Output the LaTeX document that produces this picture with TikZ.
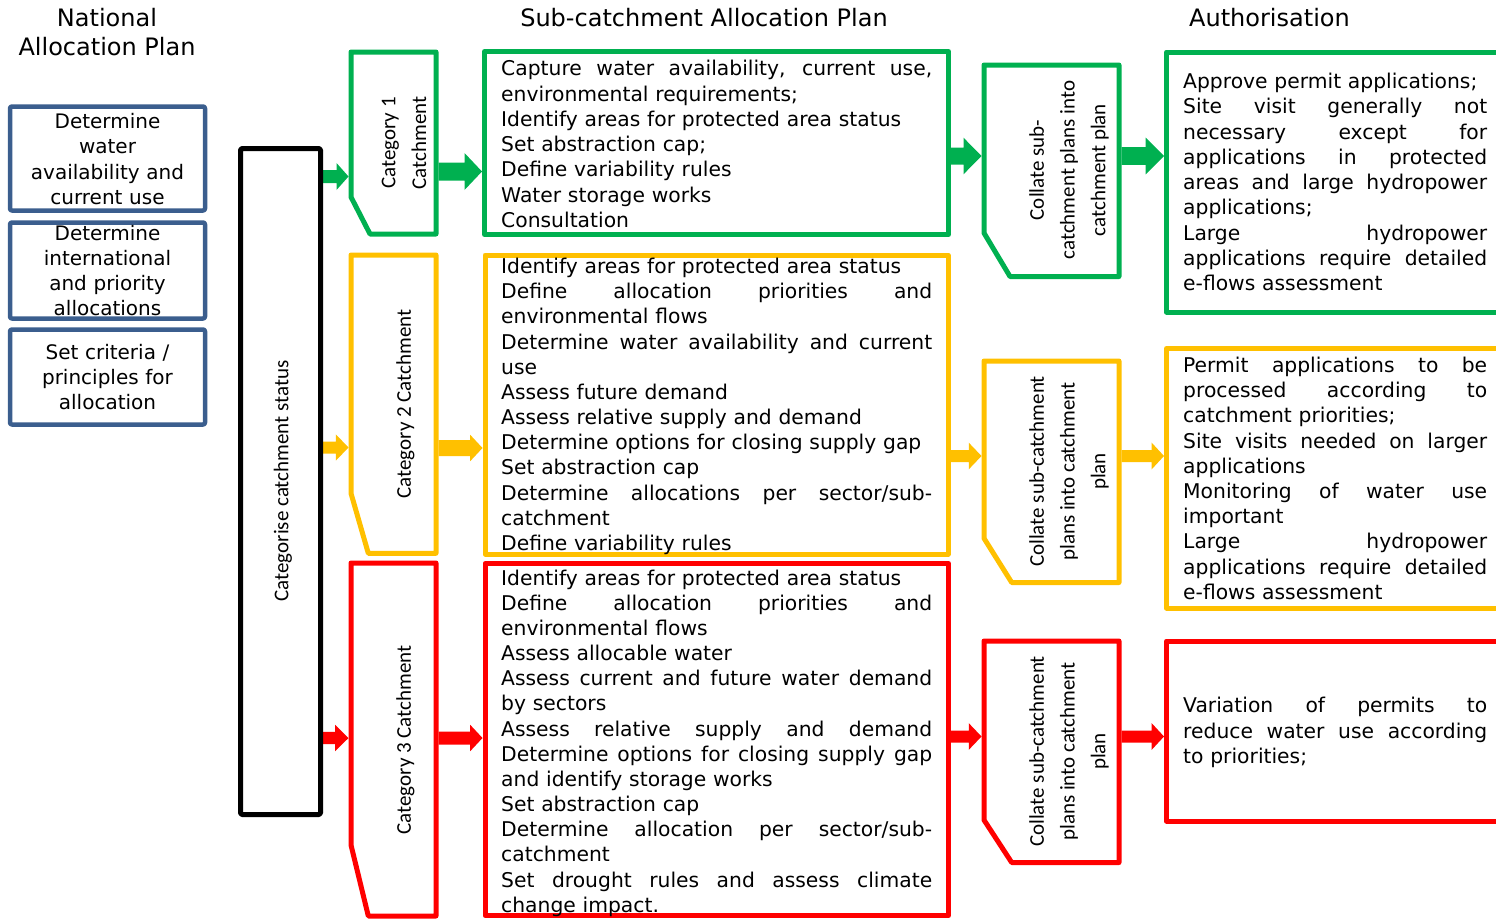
\documentclass[tikz,border=0pt]{standalone}
\usepackage{fontspec}
\setmainfont{DejaVu Sans}
\newfontfamily\labelfont{Carlito}
\usetikzlibrary{calc}

\definecolor{cgreen}{HTML}{00B050}
\definecolor{cyellow}{HTML}{FFC000}
\definecolor{cred}{HTML}{FF0000}
\definecolor{cblue}{HTML}{3B5E8E}

% justified lines: plan column (431pt) and authorisation column (304pt)
\newcommand\jl[1]{\leavevmode\hbox to 431pt{\spaceskip=0.318em plus 1fil\relax#1}}
\newcommand\ja[1]{\leavevmode\hbox to 304pt{\spaceskip=0.318em plus 1fil\relax#1}}
% invisible frame node spanning (x1,y1)-(x2,y2)
\newcommand\boxat[5]{\node[frame, minimum width={(#4-#2)*1pt}, minimum height={(#5-#3)*1pt}] (#1) at ({(#2+#4)/2},{(#3+#5)/2}) {};}
% outline with the lower-left corner snipped off
\newcommand\snipframe[4]{\draw[#2] (#1.north west) -- (#1.north east) -- (#1.south east) -- ([xshift=#3pt]#1.south west) -- ([yshift=#4pt]#1.south west) -- cycle;}
% block arrow: colour, from, to, row y, shaft half, head half, head length
\newcommand\barrow[7]{%
  \fill[#1] let \p1=(#2.east |- 0,#4), \p2=(#3.west |- 0,#4) in
    ({\x1+2.5pt},{\y1+#5pt}) -- ({\x2-2.5pt-#7pt},{\y1+#5pt}) -- ({\x2-2.5pt-#7pt},{\y1+#6pt})
    -- ({\x2-2.5pt},\y1) -- ({\x2-2.5pt-#7pt},{\y1-#6pt}) -- ({\x2-2.5pt-#7pt},{\y1-#5pt})
    -- ({\x1+2.5pt},{\y1-#5pt}) -- cycle;}

\begin{document}
\begin{tikzpicture}[x=1pt,y=-1pt,line join=round,
  frame/.style={inner sep=0pt,outer sep=0pt,rectangle},
  head/.style={inner sep=0pt,font=\fontsize{24}{28.3}\selectfont},
  navy/.style={draw=cblue,line width=4.5pt,rounded corners=2pt},
  gline/.style={draw=cgreen,line width=5pt},
  yline/.style={draw=cyellow,line width=5pt},
  rline/.style={draw=cred,line width=5pt},
  kline/.style={draw=black,line width=5pt,rounded corners=1.5pt},
  navytext/.style={inner sep=0pt,anchor=north,text width=190pt,align=center,font=\fontsize{20}{25.2}\selectfont},
  body/.style={inner sep=0pt,anchor=north west,align=left,font=\fontsize{20.3}{#1}\selectfont},
  vlabel/.style={inner sep=0pt,rotate=90,align=center,font=\labelfont\fontsize{21}{30.8}\selectfont}]
\useasboundingbox (0,0) rectangle (1496,918);
\clip (0,0) rectangle (1496,918);

% column headings
\node[head,anchor=north,align=center] (hnat) at (107,6.89) {\strut National\\Allocation Plan};
\node[head,anchor=base] (hsub) at (704,26.7) {Sub-catchment Allocation Plan};
\node[head,anchor=base] (hauth) at (1269.5,26.7) {Authorisation};

% frames
\boxat{nat1}{10}{106.5}{205}{210.5}
\boxat{nat2}{10}{222.5}{205}{318.5}
\boxat{nat3}{10}{329.5}{205}{424.5}
\boxat{cat}{240.5}{148.5}{320.5}{814.5}
\boxat{cat1}{351}{52}{436}{234}
\boxat{cat2}{351}{255}{436}{553.3}
\boxat{cat3}{351}{563}{436}{916}
\boxat{gplan}{484.5}{51.5}{948.5}{234.5}
\boxat{yplan}{485}{255}{948}{554}
\boxat{rplan}{485}{563.5}{948.5}{915.5}
\boxat{gcol}{984}{65}{1119}{276.5}
\boxat{ycol}{984}{361}{1119}{582.5}
\boxat{rcol}{984}{641}{1119}{862.5}
\boxat{gauth}{1166.5}{52}{1510}{312}
\boxat{yauth}{1166.5}{348.5}{1510}{608}
\boxat{rauth}{1166.5}{641}{1510}{821}

% connectors
\barrow{cgreen}{cat}{cat1}{176.5}{6.5}{13.5}{12}
\barrow{cgreen}{cat1}{gplan}{171.5}{9}{18.5}{17.5}
\barrow{cgreen}{gplan}{gcol}{156}{8.5}{18.3}{18}
\barrow{cgreen}{gcol}{gauth}{156}{8.8}{18.3}{18.3}
\barrow{cyellow}{cat}{cat2}{447.5}{6}{13.2}{12.7}
\barrow{cyellow}{cat2}{yplan}{448}{8}{13.2}{12.3}
\barrow{cyellow}{yplan}{ycol}{456}{6}{13.3}{12.7}
\barrow{cyellow}{ycol}{yauth}{456}{6}{13.3}{12.3}
\barrow{cred}{cat}{cat3}{738}{6.2}{13.2}{13.3}
\barrow{cred}{cat3}{rplan}{738}{6.5}{13.2}{12.3}
\barrow{cred}{rplan}{rcol}{736.5}{6}{13.3}{12.7}
\barrow{cred}{rcol}{rauth}{736.5}{6}{13.3}{12.3}

% outlines
\draw[navy] (nat1.north west) rectangle (nat1.south east);
\draw[navy] (nat2.north west) rectangle (nat2.south east);
\draw[navy] (nat3.north west) rectangle (nat3.south east);
\draw[kline] (cat.north west) rectangle (cat.south east);
\snipframe{cat1}{gline}{19}{37}
\snipframe{cat2}{yline}{17.3}{60}
\snipframe{cat3}{rline}{17.3}{71}
\draw[gline] (gplan.north west) rectangle (gplan.south east);
\draw[yline] (yplan.north west) rectangle (yplan.south east);
\draw[rline] (rplan.north west) rectangle (rplan.south east);
\snipframe{gcol}{gline}{26}{43.5}
\snipframe{ycol}{yline}{27.7}{44.2}
\snipframe{rcol}{rline}{27.7}{42.5}
\draw[gline] (gauth.north west) rectangle (gauth.south east);
\draw[yline] (yauth.north west) rectangle (yauth.south east);
\draw[rline] (rauth.north west) rectangle (rauth.south east);

% national allocation plan
\node[navytext] (nat1t) at (107.5,110.86) {\strut Determine\\water\\availability and\\current use};
\node[navytext] (nat2t) at (107.5,222.36) {\strut Determine\\international\\and priority\\allocations};
\node[navytext] (nat3t) at (107.5,341.66) {\strut Set criteria /\\principles for\\allocation};

% rotated labels
\node[vlabel] (catt) at (283,481) {Categorise catchment status};
\node[vlabel] (cat1t) at (404,143) {Category 1\\Catchment};
\node[vlabel] (cat2t) at (405.5,404) {Category 2 Catchment};
\node[vlabel] (cat3t) at (405.5,740) {Category 3 Catchment};
\node[vlabel] (gcolt) at (1069,170) {Collate sub-\\catchment plans into\\catchment plan};
\node[vlabel] (ycolt) at (1069,471.5) {Collate sub-catchment\\plans into catchment\\plan};
\node[vlabel] (rcolt) at (1069,751.5) {Collate sub-catchment\\plans into catchment\\plan};

% sub-catchment plans
\node[body=25.3,text width=431pt] (gplant) at (501,57.86) {\strut
\jl{Capture water availability, current use,}\\
environmental requirements;\\
Identify areas for protected area status\\
Set abstraction cap;\\
Define variability rules\\
Water storage works\\
Consultation};

\node[body=25.18,text width=431pt] (yplant) at (501,255.67) {\strut
Identify areas for protected area status\\
\jl{Define allocation priorities and}\\
environmental flows\\
\jl{Determine water availability and current}\\
use\\
Assess future demand\\
Assess relative supply and demand\\
Determine options for closing supply gap\\
Set abstraction cap\\
\jl{Determine allocations per sector/sub-}\\
catchment\\
Define variability rules};

\node[body=25.15,text width=431pt] (rplant) at (501,567.4) {\strut
Identify areas for protected area status\\
\jl{Define allocation priorities and}\\
environmental flows\\
Assess allocable water\\
\jl{Assess current and future water demand}\\
by sectors\\
\jl{Assess relative supply and demand}\\
\jl{Determine options for closing supply gap}\\
and identify storage works\\
Set abstraction cap\\
\jl{Determine allocation per sector/sub-}\\
catchment\\
\jl{Set drought rules and assess climate}\\
change impact.};

% authorisation
\node[body=25.25,text width=304pt] (gautht) at (1183,70.83) {\strut
Approve permit applications;\\
\ja{Site visit generally not}\\
\ja{necessary except for}\\
\ja{applications in protected}\\
\ja{areas and large hydropower}\\
applications;\\
\ja{Large hydropower}\\
\ja{applications require detailed}\\
e-flows assessment};

\node[body=25.2,text width=304pt] (yautht) at (1183,354.66) {\strut
\ja{Permit applications to be}\\
\ja{processed according to}\\
catchment priorities;\\
\ja{Site visits needed on larger}\\
applications\\
\ja{Monitoring of water use}\\
important\\
\ja{Large hydropower}\\
\ja{applications require detailed}\\
e-flows assessment};

\node[body=25.5,text width=304pt] (rautht) at (1183,694.45) {\strut
\ja{Variation of permits to}\\
\ja{reduce water use according}\\
to priorities;};
\end{tikzpicture}
\end{document}
